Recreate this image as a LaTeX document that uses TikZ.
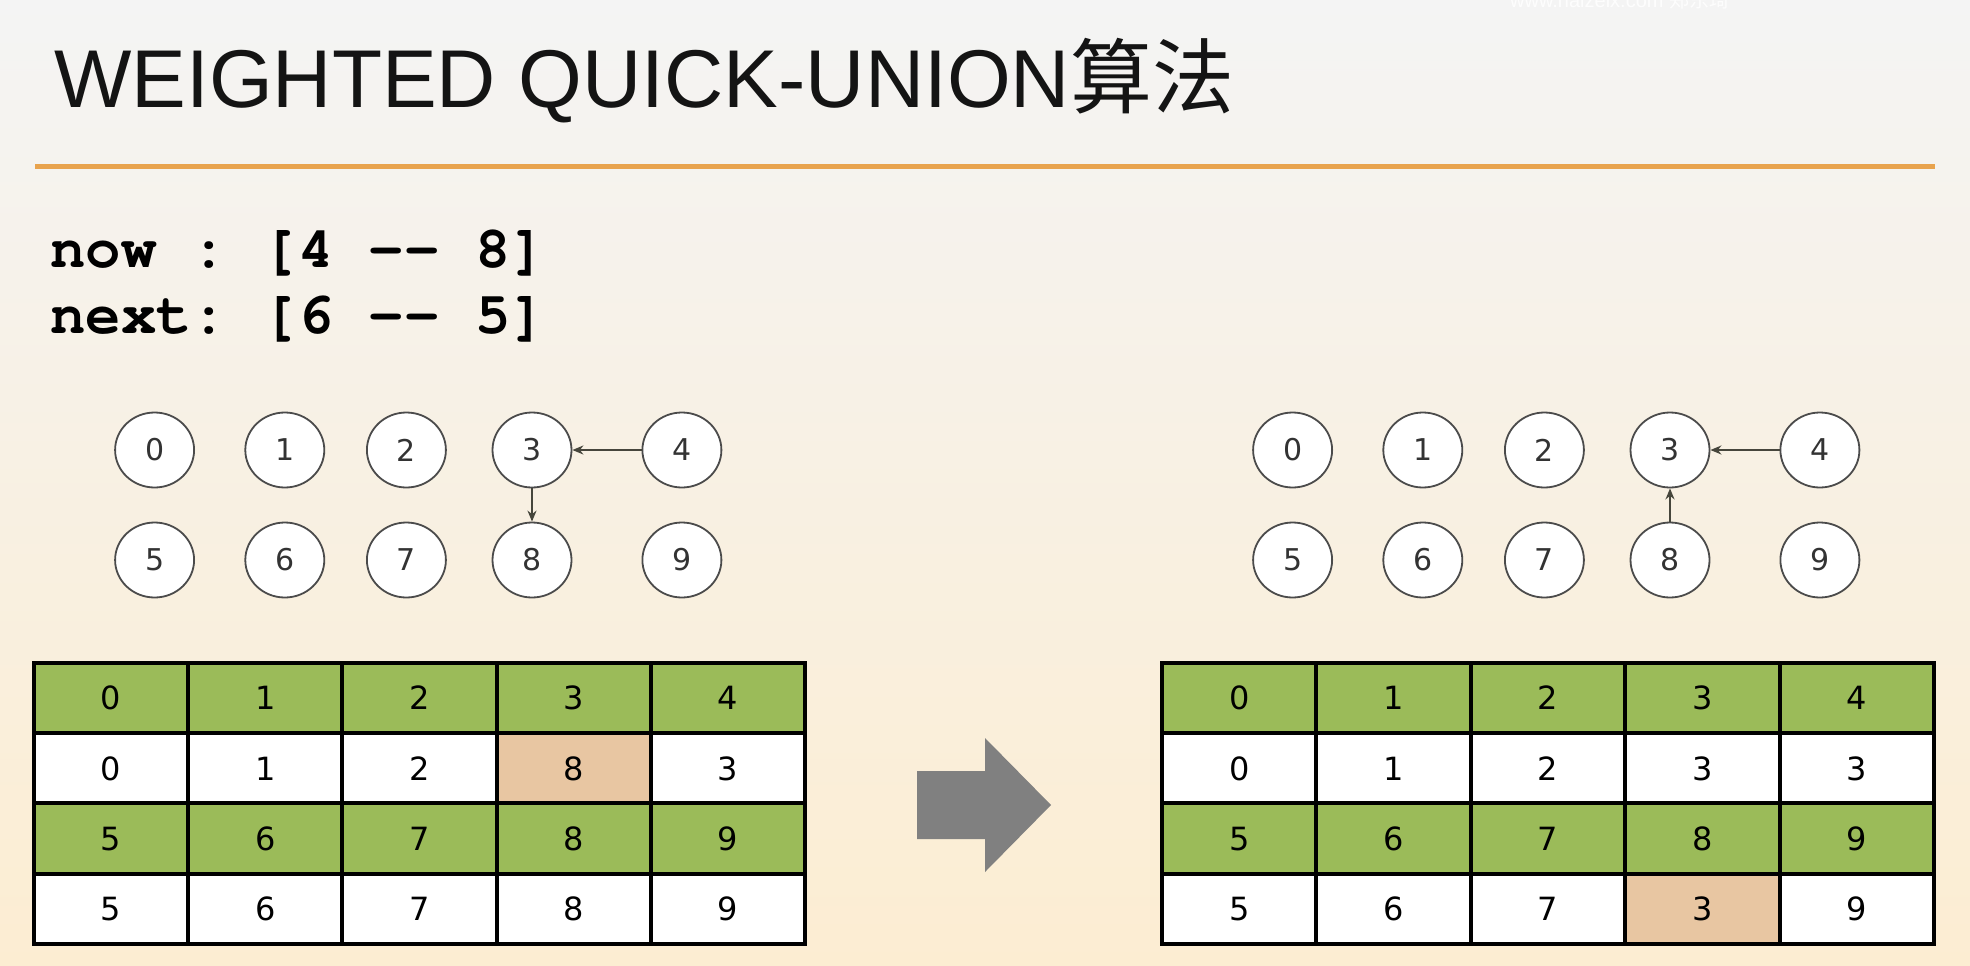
\documentclass[tikz,border=0pt]{standalone}
\usepackage{fontspec}
\setmainfont{Liberation Sans}
\newfontfamily\cjk{Noto Sans CJK SC}
\newfontfamily\codefont{TeX Gyre Cursor}
\newfontfamily\digitfont{DejaVu Sans}
\usetikzlibrary{shapes.geometric,arrows.meta}
\definecolor{cellgreen}{RGB}{155,187,89}
\definecolor{cellpeach}{RGB}{232,198,162}
\definecolor{rulecol}{RGB}{232,163,77}
\definecolor{ringcol}{RGB}{75,75,75}
\definecolor{linkcol}{RGB}{70,70,60}
\definecolor{bigarrow}{RGB}{128,128,128}
\definecolor{bgtop}{RGB}{244,244,244}
\definecolor{bgmid}{RGB}{248,243,232}
\definecolor{bgbot}{RGB}{252,237,210}
\frenchspacing
\begin{document}
\begin{tikzpicture}[x=1pt,y=-1pt,
  ring/.style={ellipse,draw=ringcol,line width=1.8pt,fill=white,
    minimum width=79pt,minimum height=75pt,inner sep=0pt,
    font=\digitfont\fontsize{30}{30}\selectfont,text=black!80},
  link/.style={draw=linkcol,line width=2pt,-{Stealth[length=11pt,width=9pt]}},
  cell/.style={rectangle,draw=black,line width=4pt,line join=miter,
    minimum width=154.2pt,minimum height=70.25pt,inner sep=0pt,
    font=\digitfont\fontsize{32}{32}\selectfont},
  plain/.style={inner sep=0pt,anchor=base west}]
\useasboundingbox (0,0) rectangle (1970,966);
\shade[top color=bgtop,middle color=bgmid,bottom color=bgbot] (0,0) rectangle (1970,966);

% watermark
\node[plain,font=\fontsize{20}{20}\selectfont,text=white,opacity=0.85] (wm) at (1510,7.5) {www.haizeix.com {\cjk 郑东琦}};

% title and rule
\node[plain,font=\fontsize{82}{82}\selectfont,text=black!92] (title) at (54,107) {WEIGHTED QUICK-UNION{\cjk 算法}};
\draw[rulecol,line width=5pt] (35,166) -- (1935,166);

% code lines
\node[plain,font=\codefont\bfseries\fontsize{59}{59}\selectfont] (now) at (50,267) {now : [4 -{}- 8]};
\node[plain,font=\codefont\bfseries\fontsize{59}{59}\selectfont] (next) at (50,333) {next: [6 -{}- 5]};

% circles
\foreach \i/\x in {0/154.6,1/284.8,2/406.4,3/532,4/681.9} {
  \pgfmathtruncatemacro\j{\i+5}
  \pgfmathsetmacro\xr{\x+1138}
  \node[ring] (L\i) at (\x,450) {\i};
  \node[ring] (L\j) at (\x,560) {\j};
  \node[ring] (R\i) at (\xr,450) {\i};
  \node[ring] (R\j) at (\xr,560) {\j};
}
\draw[link] (L4) -- (L3);
\draw[link] (L3) -- (L8);
\draw[link] (R4) -- (R3);
\draw[link] (R8) -- (R3);

% left table
\foreach \v/\f [count=\c from 0] in {0/cellgreen,1/cellgreen,2/cellgreen,3/cellgreen,4/cellgreen}
  \node[cell,fill=\f] (TLa\c) at (111.1+\c*154.2,698.1) {\v};
\foreach \v/\f [count=\c from 0] in {0/white,1/white,2/white,8/cellpeach,3/white}
  \node[cell,fill=\f] (TLb\c) at (111.1+\c*154.2,768.4) {\v};
\foreach \v/\f [count=\c from 0] in {5/cellgreen,6/cellgreen,7/cellgreen,8/cellgreen,9/cellgreen}
  \node[cell,fill=\f] (TLc\c) at (111.1+\c*154.2,838.6) {\v};
\foreach \v/\f [count=\c from 0] in {5/white,6/white,7/white,8/white,9/white}
  \node[cell,fill=\f] (TLd\c) at (111.1+\c*154.2,908.9) {\v};

% right table
\foreach \v/\f [count=\c from 0] in {0/cellgreen,1/cellgreen,2/cellgreen,3/cellgreen,4/cellgreen}
  \node[cell,fill=\f,minimum width=154.4pt] (TRa\c) at (1239.2+\c*154.4,698.1) {\v};
\foreach \v/\f [count=\c from 0] in {0/white,1/white,2/white,3/white,3/white}
  \node[cell,fill=\f,minimum width=154.4pt] (TRb\c) at (1239.2+\c*154.4,768.4) {\v};
\foreach \v/\f [count=\c from 0] in {5/cellgreen,6/cellgreen,7/cellgreen,8/cellgreen,9/cellgreen}
  \node[cell,fill=\f,minimum width=154.4pt] (TRc\c) at (1239.2+\c*154.4,838.6) {\v};
\foreach \v/\f [count=\c from 0] in {5/white,6/white,7/white,3/cellpeach,9/white}
  \node[cell,fill=\f,minimum width=154.4pt] (TRd\c) at (1239.2+\c*154.4,908.9) {\v};

% big arrow
\fill[bigarrow] (917,771) -- (985,771) -- (985,738) -- (1051,805) -- (985,872) -- (985,839) -- (917,839) -- cycle;
\end{tikzpicture}
\end{document}
